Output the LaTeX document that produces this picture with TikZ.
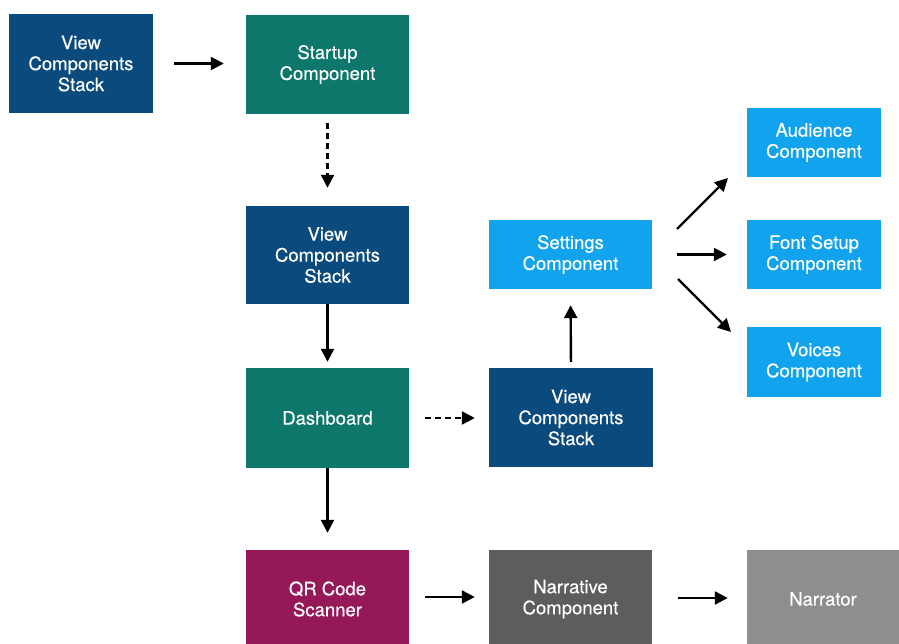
\documentclass[tikz,border=0pt]{standalone}
\usepackage{fontspec}
\setmainfont{TeX Gyre Heros}
\newfontfamily\boxfont[FakeBold=0.4]{TeX Gyre Heros}
\usetikzlibrary{arrows.meta}

\definecolor{navy}{HTML}{0B4A7C}
\definecolor{teal}{HTML}{0E776C}
\definecolor{sky}{HTML}{11A3EE}
\definecolor{plum}{HTML}{951859}
\definecolor{slate}{HTML}{5D5D5D}
\definecolor{ash}{HTML}{8E8E8E}

\tikzset{
  box/.style={rectangle, inner sep=0pt, align=center, text=white,
    font=\boxfont\fontsize{18.5}{21}\selectfont},
  bigbox/.style={box, minimum width=163pt, minimum height=99pt},
  smallbox/.style={box, minimum width=134pt, minimum height=69pt},
  link/.style={line width=2.4pt, -{Triangle[length=13pt,width=13pt]}},
  dlink/.style={link, dash pattern=on 6pt off 4pt},
}

\begin{document}
\begin{tikzpicture}[x=1pt, y=-1pt]
  \useasboundingbox (0,0) rectangle (899,644);
  \clip (0,0) rectangle (899,644);
  \fill[white] (0,0) rectangle (899,644);

  % boxes
  \node[bigbox, fill=navy, minimum width=144pt] (vcsA) at (81,63.5) {View\\Components\\Stack};
  \node[bigbox, fill=teal] (startup) at (327.5,64.5) {Startup\\Component};
  \node[bigbox, fill=navy, minimum height=98pt] (vcsB) at (327.5,255) {View\\Components\\Stack};
  \node[bigbox, fill=teal, minimum height=100pt] (dash) at (327.5,418) {Dashboard};
  \node[bigbox, fill=plum, minimum height=98pt] (qr) at (327.5,599) {QR Code\\Scanner};
  \node[bigbox, fill=slate, minimum height=98pt] (narr) at (570.5,599) {Narrative\\Component};
  \node[bigbox, fill=ash, minimum width=160pt, minimum height=98pt] (narrator) at (827,599) {};
  \node[box] (narratorlbl) at (823,599) {Narrator};
  \node[bigbox, fill=navy, minimum width=164pt] (vcsC) at (571,417.5) {View\\Components\\Stack};
  \node[smallbox, fill=sky, minimum width=163pt] (settings) at (570.5,254.5) {Settings\\Component};
  \node[smallbox, fill=sky] (audience) at (814,142.5) {Audience\\Component};
  \node[smallbox, fill=sky] (fontsetup) at (814,254.5) {Font Setup\\Component};
  \node[smallbox, fill=sky, minimum height=70pt] (voices) at (814,362) {Voices\\Component};

  % free ends of the diagonal links
  \coordinate (audS) at (677,229);
  \coordinate (audE) at (728,178);
  \coordinate (voiS) at (678,279);
  \coordinate (voiE) at (731,332);

  % connectors
  \draw[link, shorten <=21pt, shorten >=22pt] (vcsA.east) -- (vcsA.east -| startup.west);
  \draw[dlink, shorten <=9pt, shorten >=18pt] (startup.south) -- (vcsB.north);
  \draw[link, shorten >=6pt] (vcsB.south) -- (dash.north);
  \draw[link, shorten >=17pt] (dash.south) -- (qr.north);
  \draw[dlink, shorten <=16pt, shorten >=14pt] (dash.east) -- (dash.east -| vcsC.west);
  \draw[link, shorten <=6pt, shorten >=16pt] (vcsC.north) -- (settings.south);
  \draw[link, shorten <=16pt, shorten >=14pt] ([yshift=2pt]qr.east) -- ([yshift=2pt]narr.west);
  \draw[link, shorten <=26pt, shorten >=19pt] ([yshift=1pt]narr.east) -- ([yshift=1pt]narr.east -| narrator.west);
  \draw[link, shorten <=25pt, shorten >=20pt] (settings.east) -- (fontsetup.west);
  \draw[link] (audS) -- (audE);
  \draw[link] (voiS) -- (voiE);
\end{tikzpicture}
\end{document}
